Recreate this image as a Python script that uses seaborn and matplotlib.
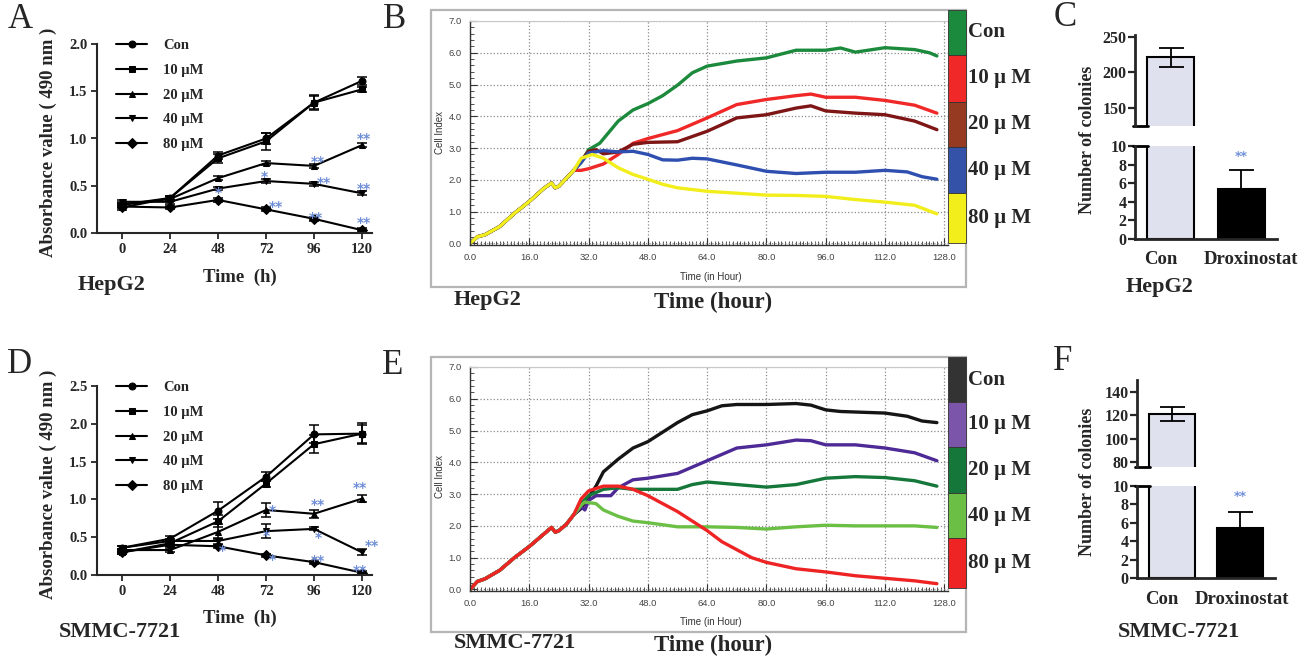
import numpy as np
import pandas as pd
import seaborn as sns
import matplotlib.pyplot as plt
from matplotlib.patches import Rectangle
from matplotlib.ticker import MultipleLocator

sns.set_theme(style="ticks")
plt.rcParams["font.family"] = ["Liberation Serif", "DejaVu Serif"]
plt.rcParams["font.weight"] = "bold"
plt.rcParams["axes.labelweight"] = "bold"

W, H = 1310, 664
fig = plt.figure(figsize=(W / 100, H / 100), dpi=100)


def px_axes(x0, y0, x1, y1):
    return fig.add_axes([x0 / W, 1 - y1 / H, (x1 - x0) / W, (y1 - y0) / H])


def ftext(x, y, s, **kw):
    kw.setdefault("ha", "center")
    kw.setdefault("va", "center")
    fig.text(x / W, 1 - y / H, s, **kw)


# ---------------- data ----------------
groups = ["Con", "10 µM", "20 µM", "40 µM", "80 µM"]
rt_labels = ["Con", "10 µ M", "20 µ M", "40 µ M", "80 µ M"]
markers = ["o", "s", "^", "v", "D"]
mtt_time = [0, 24, 48, 72, 96, 120]

# MTT, HepG2
hep_con = [0.30, 0.37, 0.82, 1.00, 1.38, 1.61]
hep_10 = [0.27, 0.37, 0.79, 0.97, 1.38, 1.52]
hep_20 = [0.30, 0.36, 0.58, 0.74, 0.71, 0.93]
hep_40 = [0.33, 0.33, 0.47, 0.55, 0.52, 0.42]
hep_80 = [0.28, 0.27, 0.35, 0.25, 0.15, 0.03]
hep_con_sd = [0.03, 0.02, 0.04, 0.06, 0.08, 0.04]
hep_10_sd = [0.03, 0.02, 0.05, 0.09, 0.07, 0.03]
hep_20_sd = [0.02, 0.02, 0.02, 0.02, 0.02, 0.02]
hep_40_sd = [0.02, 0.02, 0.02, 0.02, 0.02, 0.02]
hep_80_sd = [0.02, 0.02, 0.02, 0.02, 0.02, 0.02]

# MTT, SMMC-7721
smmc_con = [0.36, 0.48, 0.85, 1.30, 1.86, 1.87]
smmc_10 = [0.30, 0.42, 0.71, 1.21, 1.73, 1.87]
smmc_20 = [0.33, 0.33, 0.57, 0.86, 0.81, 1.01]
smmc_40 = [0.36, 0.45, 0.45, 0.58, 0.61, 0.30]
smmc_80 = [0.30, 0.40, 0.38, 0.26, 0.17, 0.03]
smmc_con_sd = [0.02, 0.03, 0.11, 0.06, 0.12, 0.14]
smmc_10_sd = [0.02, 0.03, 0.08, 0.04, 0.12, 0.12]
smmc_20_sd = [0.02, 0.03, 0.10, 0.09, 0.05, 0.05]
smmc_40_sd = [0.02, 0.02, 0.04, 0.09, 0.02, 0.04]
smmc_80_sd = [0.02, 0.02, 0.02, 0.02, 0.02, 0.02]

# significance marks (time, y, text)
hep_stars = [(98, 0.75, "**"), (121, 0.99, "**"), (71, 0.59, "*"), (101, 0.53, "**"),
             (121, 0.47, "**"), (48, 0.42, "*"), (77, 0.28, "**"), (97, 0.16, "**"),
             (121, 0.11, "**")]
smmc_stars = [(75, 0.84, "*"), (98, 0.93, "**"), (119, 1.15, "**"), (72, 0.51, "*"),
              (98, 0.49, "*"), (125, 0.38, "**"), (50, 0.32, "*"), (75, 0.20, "*"),
              (98, 0.19, "**"), (119, 0.05, "**")]

# RTCA cell index, HepG2
early_t = [0, 2, 4, 8, 12, 16, 20, 22, 23, 24, 26, 28]
hep_early = [0.0, 0.21, 0.27, 0.53, 0.95, 1.32, 1.74, 1.9, 1.75, 1.8, 2.05, 2.3]
hep_rt_t = {
    "Con": [30, 32, 35, 40, 44, 48, 52, 56, 60, 64, 72, 80, 88, 96, 100, 104, 112, 120, 124, 126],
    "10": [30, 32, 36, 40, 44, 48, 56, 64, 72, 80, 88, 92, 96, 104, 112, 120, 126],
    "20": [30, 32, 34, 36, 40, 44, 48, 56, 64, 72, 80, 88, 92, 96, 104, 112, 120, 126],
    "40": [30, 32, 36, 40, 44, 48, 52, 56, 60, 64, 72, 80, 88, 96, 104, 112, 118, 122, 126],
    "80": [30, 33, 36, 40, 44, 48, 52, 56, 64, 72, 80, 88, 96, 104, 112, 120, 126],
}
hep_rt_ci = {
    "Con": [2.55, 2.95, 3.15, 3.85, 4.2, 4.4, 4.65, 4.98, 5.37, 5.58, 5.74, 5.84, 6.08, 6.08, 6.15, 6.02, 6.16, 6.1, 6.0, 5.9],
    "10": [2.3, 2.35, 2.5, 2.8, 3.15, 3.3, 3.55, 3.95, 4.37, 4.53, 4.65, 4.7, 4.6, 4.6, 4.5, 4.35, 4.1],
    "20": [2.6, 2.9, 2.95, 2.82, 2.88, 3.12, 3.18, 3.2, 3.53, 3.95, 4.05, 4.26, 4.33, 4.17, 4.1, 4.05, 3.85, 3.58],
    "40": [2.55, 2.85, 2.92, 2.88, 2.9, 2.8, 2.63, 2.62, 2.68, 2.66, 2.47, 2.27, 2.2, 2.24, 2.24, 2.3, 2.25, 2.1, 2.02],
    "80": [2.68, 2.8, 2.68, 2.38, 2.17, 2.02, 1.86, 1.75, 1.64, 1.58, 1.52, 1.51, 1.48, 1.38, 1.3, 1.2, 0.93],
}
hep_rt_colors = ["#1c8a3c", "#f02828", "#7e1616", "#2e4fb0", "#f2ee1c"]
hep_block_colors = ["#1c8a3c", "#f02828", "#963a22", "#3352a8", "#f2ee1c"]

# RTCA cell index, SMMC-7721
smmc_early = [0.0, 0.25, 0.33, 0.6, 1.0, 1.35, 1.75, 1.95, 1.8, 1.85, 2.05, 2.35]
smmc_rt_t = {
    "Con": [30, 32, 34, 36, 40, 44, 48, 52, 56, 60, 64, 68, 72, 80, 88, 92, 96, 100, 112, 118, 122, 126],
    "10": [30, 31, 32, 34, 38, 40, 44, 48, 56, 64, 72, 80, 88, 92, 96, 104, 112, 120, 126],
    "20": [30, 32, 36, 40, 44, 48, 56, 60, 64, 72, 80, 88, 96, 104, 112, 120, 126],
    "40": [30, 31, 34, 36, 40, 44, 48, 56, 64, 72, 80, 88, 96, 104, 112, 120, 126],
    "80": [30, 32, 36, 40, 44, 48, 52, 56, 60, 64, 68, 72, 76, 80, 88, 96, 104, 112, 120, 126],
}
smmc_rt_ci = {
    "Con": [2.55, 2.9, 3.25, 3.7, 4.1, 4.45, 4.65, 4.95, 5.25, 5.5, 5.62, 5.78, 5.82, 5.82, 5.85, 5.8, 5.65, 5.6, 5.55, 5.45, 5.3, 5.25],
    "10": [2.6, 2.5, 2.8, 2.95, 2.95, 3.2, 3.45, 3.5, 3.65, 4.05, 4.45, 4.55, 4.7, 4.68, 4.55, 4.55, 4.45, 4.3, 4.05],
    "20": [2.7, 2.95, 3.15, 3.2, 3.15, 3.15, 3.15, 3.3, 3.38, 3.3, 3.22, 3.3, 3.5, 3.55, 3.52, 3.42, 3.25],
    "40": [2.65, 2.75, 2.7, 2.5, 2.3, 2.15, 2.1, 1.97, 1.97, 1.95, 1.9, 1.97, 2.02, 2.0, 2.0, 2.0, 1.95],
    "80": [2.85, 3.1, 3.25, 3.25, 3.15, 2.95, 2.7, 2.45, 2.15, 1.85, 1.5, 1.25, 1.0, 0.85, 0.65, 0.55, 0.43, 0.35, 0.27, 0.18],
}
smmc_rt_colors = ["#151515", "#4e2a96", "#15783a", "#6cbf45", "#ee2424"]
smmc_block_colors = ["#333333", "#7a55aa", "#15783a", "#6cbf45", "#ee2424"]

# colony formation
col_groups = ["Con", "Droxinostat"]
hep_colonies = [221, 5.4]
hep_colonies_err = [13, 2.0]
smmc_colonies = [121, 5.4]
smmc_colonies_err = [6, 1.8]

star_color = "#6f8ed8"
serif_bold = dict(family=["Liberation Serif", "DejaVu Serif"], weight="bold")


# ---------------- panels A / D ----------------
def mtt_panel(box, means, sds, ylim, yticks, stars):
    ax = px_axes(*box)
    rows = []
    for g, m in zip(groups, means):
        for t, v in zip(mtt_time, m):
            rows.append({"time": t, "value": v, "group": g})
    df = pd.DataFrame(rows)
    sns.lineplot(data=df, x="time", y="value", hue="group", style="group",
                 markers=markers, dashes=False, palette=["black"] * 5,
                 markersize=5, markeredgecolor="black", linewidth=1.5, ax=ax)
    for m, s in zip(means, sds):
        ax.errorbar(mtt_time, m, yerr=s, fmt="none", ecolor="black",
                    elinewidth=1.1, capsize=3.5, capthick=1.1)
    for x, y, s in stars:
        ax.text(x, y, s, color=star_color, fontsize=10, ha="center", va="center",
                family="DejaVu Sans", weight="bold")
    handles, labels = ax.get_legend_handles_labels()
    ax.legend(handles, labels, loc="upper left", bbox_to_anchor=(0.07, 1.025),
              frameon=False, borderpad=0, borderaxespad=0, handlelength=2.1,
              labelspacing=0.78, handletextpad=1.1,
              prop=dict(family="Liberation Serif", weight="bold", size=10.5))
    ax.set_xlim(-12.5, 125)
    ax.set_ylim(*ylim)
    ax.set_xticks(mtt_time)
    ax.set_yticks(yticks)
    ax.set_yticklabels([f"{v:.1f}" for v in yticks])
    ax.set_xlabel("")
    ax.set_ylabel("")
    for lab in ax.get_xticklabels() + ax.get_yticklabels():
        lab.set_fontproperties(dict(family="Liberation Serif", weight="bold", size=10.5))
    ax.tick_params(direction="out", length=4, width=1.3, pad=3)
    sns.despine(ax=ax)
    for sp in ["left", "bottom"]:
        ax.spines[sp].set_linewidth(1.5)
    return ax


mtt_panel((97, 44, 372, 233), [hep_con, hep_10, hep_20, hep_40, hep_80],
          [hep_con_sd, hep_10_sd, hep_20_sd, hep_40_sd, hep_80_sd],
          (0, 2.0), [0, 0.5, 1.0, 1.5, 2.0], hep_stars)
ftext(48, 142, "Absorbance value ( 490 nm )", rotation=90, fontsize=13.5, **serif_bold)
ftext(240, 277, "Time  (h)", fontsize=13.5, **serif_bold)
ftext(112, 285, "HepG2", fontsize=16, **serif_bold)

mtt_panel((97, 386, 372, 575), [smmc_con, smmc_10, smmc_20, smmc_40, smmc_80],
          [smmc_con_sd, smmc_10_sd, smmc_20_sd, smmc_40_sd, smmc_80_sd],
          (0, 2.5), [0, 0.5, 1.0, 1.5, 2.0, 2.5], smmc_stars)
ftext(48, 484, "Absorbance value ( 490 nm )", rotation=90, fontsize=13.5, **serif_bold)
ftext(240, 618, "Time  (h)", fontsize=13.5, **serif_bold)
ftext(120, 632, "SMMC-7721", fontsize=16, **serif_bold)


# ---------------- panels B / E ----------------
def rtca_panel(box, frame, early, t_dict, ci_dict, colors, block_colors,
               block_edges, label_y, cell_label_y, time_label_y, cell_name, bottom_y):
    fx0, fy0, fx1, fy1 = frame
    fig.add_artist(Rectangle((fx0 / W, 1 - fy1 / H), (fx1 - fx0) / W, (fy1 - fy0) / H,
                             transform=fig.transFigure, fill=False,
                             edgecolor="#b5b5b5", linewidth=1.6))
    ax = px_axes(*box)
    rows = []
    for g, key in zip(groups, ["Con", "10", "20", "40", "80"]):
        for t, v in zip(early_t + t_dict[key], early + ci_dict[key]):
            rows.append({"t": t, "ci": v, "group": g})
    df = pd.DataFrame(rows)
    sns.lineplot(data=df, x="t", y="ci", hue="group", palette=colors,
                 linewidth=2.4, legend=False, ax=ax, sort=False)
    ax.set_xlim(0, 129)
    ax.set_ylim(-0.05, 7.0)
    ax.set_xticks(np.arange(0, 129, 16))
    ax.set_xticklabels([f"{v:.1f}" for v in np.arange(0, 129, 16)])
    ax.set_yticks(np.arange(0, 8, 1))
    ax.set_yticklabels([f"{v:.1f}" for v in np.arange(0, 8, 1)])
    ax.xaxis.set_minor_locator(MultipleLocator(1))
    ax.yaxis.set_minor_locator(MultipleLocator(0.2))
    ax.grid(True, which="major", linestyle=":", color="#8a8a8a", linewidth=0.9)
    ax.tick_params(which="major", direction="in", length=5, width=0.8, color="#333",
                   labelsize=6.8, labelcolor="#444", pad=6)
    ax.tick_params(which="minor", direction="in", length=3, width=0.6, color="#333")
    for lab in ax.get_xticklabels() + ax.get_yticklabels():
        lab.set_family("Liberation Sans")
        lab.set_weight("normal")
    ax.set_xlabel("")
    ax.set_ylabel("")
    for sp in ["left", "bottom"]:
        ax.spines[sp].set_color("#333")
        ax.spines[sp].set_linewidth(1.0)
    for sp in ["top", "right"]:
        ax.spines[sp].set_color("#c8c8c8")
        ax.spines[sp].set_linewidth(0.8)

    for i, c in enumerate(block_colors):
        y0, y1 = block_edges[i], block_edges[i + 1]
        fig.add_artist(Rectangle((948 / W, 1 - y1 / H), 18 / W, (y1 - y0) / H,
                                 transform=fig.transFigure, facecolor=c,
                                 edgecolor="#333", linewidth=0.6))
        ftext(968, label_y[i], rt_labels[i], ha="left", fontsize=15, **serif_bold)

    ftext(440, cell_label_y, "Cell Index", rotation=90, fontsize=7,
          family="Liberation Sans", weight="normal", color="#333")
    ftext(711, time_label_y, "Time (in Hour)", fontsize=7,
          family="Liberation Sans", weight="normal", color="#333")
    ftext(454, bottom_y, cell_name, ha="left", fontsize=16, **serif_bold)
    ftext(713, bottom_y + 2, "Time (hour)", fontsize=16.5, **serif_bold)


rtca_panel((470, 21, 948, 245), (431, 10, 966, 287), hep_early, hep_rt_t, hep_rt_ci,
           hep_rt_colors, hep_block_colors, [10, 55, 102, 147, 193, 243],
           [32, 78, 124, 170, 218], 133, 277, "HepG2", 300)
rtca_panel((470, 367, 948, 591), (431, 357, 966, 632), smmc_early, smmc_rt_t, smmc_rt_ci,
           smmc_rt_colors, smmc_block_colors, [357, 402, 447, 493, 538, 588],
           [380, 424, 470, 516, 563], 477, 622, "SMMC-7721", 643)


# ---------------- panels C / F ----------------
def colony_panel(x0, x1, top_box, bot_box, top_lim, top_ticks, values, errs,
                 ylabel_y, label_pos, name, name_xy):
    ax_t = px_axes(x0, top_box[0], x1, top_box[1])
    ax_b = px_axes(x0, bot_box[0], x1, bot_box[1])
    for ax in (ax_t, ax_b):
        sns.barplot(x=col_groups, y=values, hue=col_groups,
                    palette=["#dedff0", "black"], edgecolor="black", linewidth=1.5,
                    width=0.67, legend=False, ax=ax)
        ax.set_xlim(-0.51, 1.51)
        ax.set_xlabel("")
        ax.set_ylabel("")
        ax.tick_params(axis="y", direction="out", length=5, width=1.6, pad=1)
        for sp in ["left", "bottom"]:
            ax.spines[sp].set_linewidth(2)
    ax_t.errorbar(0, values[0], yerr=errs[0], fmt="none", ecolor="black",
                  elinewidth=1.3, capsize=9, capthick=1.3)
    ax_b.errorbar(1, values[1], yerr=[[0], [errs[1]]], fmt="none", ecolor="black",
                  elinewidth=1.3, capsize=9, capthick=1.3)
    ax_b.text(1, 8.9, "**", color=star_color, fontsize=9, ha="center", va="center",
              family="DejaVu Sans", weight="bold")

    ax_t.set_ylim(*top_lim)
    ax_t.set_yticks(top_ticks)
    ax_t.set_yticklabels([str(v) for v in top_ticks])
    for lab in ax_t.get_yticklabels():
        lab.set_fontproperties(dict(family="Liberation Serif", weight="bold", size=11.5))
    ax_t.set_xticks([])
    sns.despine(ax=ax_t, bottom=True)
    ax_t.plot([-0.54, -0.32], [top_lim[0], top_lim[0]], color="black", lw=2, clip_on=False)

    ax_b.set_ylim(0, 10)
    ax_b.set_yticks([0, 2, 4, 6, 8, 10])
    ax_b.set_yticklabels(["0", "2", "4", "6", "8", "10"])
    for lab in ax_b.get_yticklabels():
        lab.set_fontproperties(dict(family="Liberation Serif", weight="bold", size=11.5))
    sns.despine(ax=ax_b)
    ax_b.plot([-0.54, -0.32], [10, 10], color="black", lw=2, clip_on=False)
    ax_b.set_xticks(label_pos)
    ax_b.set_xticklabels(col_groups)
    ax_b.tick_params(axis="x", length=0, pad=9)
    for lab in ax_b.get_xticklabels():
        lab.set_fontproperties(dict(family="Liberation Serif", weight="bold", size=13.5))

    ftext(1088, ylabel_y, "Number of colonies", rotation=90, fontsize=13, **serif_bold)
    ftext(name_xy[0], name_xy[1], name, fontsize=16, **serif_bold)


colony_panel(1135, 1277, (35, 126), (146, 239), (125, 252.5), [150, 200, 250],
             hep_colonies, hep_colonies_err, 140, [-0.14, 1.14], "HepG2", (1160, 287))
colony_panel(1137, 1275, (380, 467), (486, 578), (75.5, 150.5), [80, 100, 120, 140],
             smmc_colonies, smmc_colonies_err, 482, [-0.15, 1.03], "SMMC-7721", (1179, 632))

# panel letters
for s, x, y in [("A", 20, 20), ("B", 395, 20), ("C", 1065, 18),
                ("D", 20, 364), ("E", 393, 366), ("F", 1063, 362)]:
    ftext(x, y, s, fontsize=25, family="Liberation Serif", weight="normal")

fig.savefig("out.png", dpi=100)
